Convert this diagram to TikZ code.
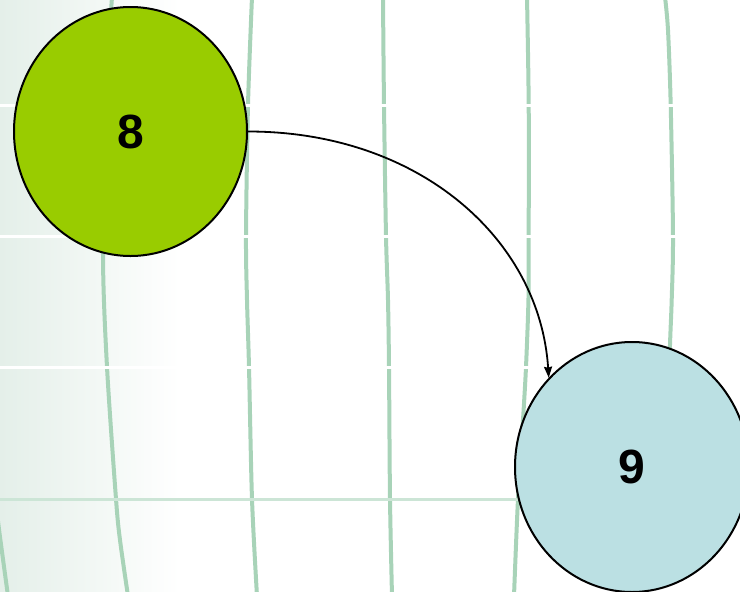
\documentclass[tikz,border=0pt]{standalone}
\usepackage{fontspec}
\setmainfont{Liberation Sans}
\usetikzlibrary{shapes.geometric,arrows.meta}

\definecolor{wash}{HTML}{E4EFE9}
\definecolor{contour}{HTML}{A8D3B8}
\definecolor{baseline}{HTML}{CCE5D6}
\definecolor{limefill}{HTML}{99CC00}
\definecolor{icefill}{HTML}{BBE0E3}

\tikzset{
  contourline/.style={draw=contour, line width=4pt},
  gridwhite/.style={draw=white, line width=3pt},
  gridgreen/.style={draw=baseline, line width=3pt},
  bubble/.style={ellipse, draw=black, line width=2pt, inner sep=0pt,
    minimum width=233pt, minimum height=249pt,
    font=\fontsize{48}{50}\selectfont\bfseries},
  link/.style={draw=black, line width=1.8pt,
    -{Stealth[length=11pt,width=8pt,inset=1pt]}}
}

\begin{document}
\begin{tikzpicture}[x=1pt,y=-1pt]
  \useasboundingbox (0,0) rectangle (740,592);

  % background wash on the left
  \shade[left color=wash, right color=white] (0,0) rectangle (180,592);

  % curved contour lines
  \begin{scope}
    \clip (0,0) rectangle (740,592);
    \draw[contourline] plot[smooth] coordinates {(-4,505) (0,537) (8,596)};
    \draw[contourline] plot[smooth] coordinates {(112,-3) (106,100) (103,255) (107,367) (116,499) (120,540) (128,596)};
    \draw[contourline] plot[smooth] coordinates {(252,-3) (248,105) (246,236) (247,300) (249,367) (252,499) (257,596)};
    \draw[contourline] plot[smooth] coordinates {(383,-3) (384,105) (386,236) (388,300) (389,367) (390,499) (392,596)};
    \draw[contourline] plot[smooth] coordinates {(527,-3) (528.7,105) (528.7,236) (528.5,298) (526,367) (523,420) (518,499) (514,596)};
    \draw[contourline] plot[smooth] coordinates {(665,-3) (668,30) (670.7,105) (673,236) (671.7,300) (670,345) (668,420)};
  \end{scope}

  % horizontal grid strokes
  \draw[gridwhite] (0,105) coordinate (w1a) -- (740,105) coordinate (w1b);
  \draw[gridwhite] (0,236) coordinate (w2a) -- (740,236) coordinate (w2b);
  \draw[gridwhite] (0,367) coordinate (w3a) -- (740,367) coordinate (w3b);
  \draw[gridgreen] (0,499) coordinate (g1a) -- (600,499) coordinate (g1b);

  % nodes
  \node[bubble, fill=limefill] (n8) at (130.5,131.5) {8};
  \node[bubble, fill=icefill, minimum width=234pt, minimum height=250pt] (n9) at (632,467) {9};

  % connector
  \draw[link] (n8.east) .. controls (420,131.5) and (540,240) .. (n9.133);
\end{tikzpicture}
\end{document}
